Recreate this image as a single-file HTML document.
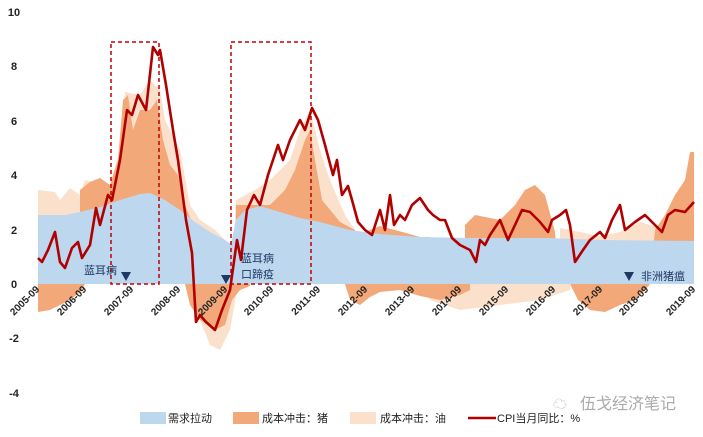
<!DOCTYPE html><html><head><meta charset="utf-8"><style>
body{margin:0;background:#fff;width:703px;height:432px;overflow:hidden;font-family:"Liberation Sans","Noto Sans CJK SC",sans-serif}
</style></head><body>
<svg width="703" height="432" viewBox="0 0 703 432" xmlns="http://www.w3.org/2000/svg" font-family="Liberation Sans, Noto Sans CJK SC, sans-serif">
<g font-size="11" fill="#222" text-anchor="middle" font-weight="bold">
<text x="14" y="16">10</text><text x="14" y="70">8</text><text x="14" y="125">6</text><text x="14" y="179">4</text><text x="14" y="234">2</text><text x="14" y="288">0</text><text x="14" y="342">-2</text><text x="14" y="397">-4</text>
</g>
<polygon fill="#fbe0cc" points="38,284 38,190 55,192 60,200 70,188 80,195 85,180 110,185 120,150 125,92 140,95 150,80 160,90 165,120 180,150 190,205 200,220 215,230 225,240 231,284"/>
<polygon fill="#fbe0cc" points="190,284 200,320 210,345 220,350 230,330 238,284"/>
<polygon fill="#fbe0cc" points="231,284 236,200 255,190 270,180 290,160 300,130 310,110 320,150 330,180 345,215 355,230 355,284"/>
<polygon fill="#fbe0cc" points="420,284 430,300 460,310 500,305 540,300 570,290 570,284"/>
<polygon fill="#fbe0cc" points="560,284 560,228 600,236 620,232 640,222 660,228 694,234 694,284"/>
<polygon fill="#f2a878" points="80,284 80,190 90,182 100,178 110,185 118,160 123,100 128,95 133,130 140,110 150,110 157,100 163,140 170,165 178,175 185,205 195,230 205,240 205,284"/>
<polygon fill="#f2a878" points="236,284 236,205 255,205 270,205 285,190 295,170 305,140 310,130 315,160 322,200 340,222 355,230 355,284"/>
<polygon fill="#f2a878" points="360,284 365,232 380,226 395,230 420,237 430,237 430,284"/>
<polygon fill="#f2a878" points="465,284 465,225 475,215 490,218 500,220 515,205 525,190 535,185 545,195 555,232 560,284"/>
<polygon fill="#f2a878" points="650,284 655,230 665,215 675,195 685,180 690,152 694,152 694,284"/>
<polygon fill="#bdd7ee" points="38,284 38,215 65,215 80,212 100,207 120,200 140,194 150,193 165,200 180,210 195,222 210,232 225,240 231,244 236,220 245,210 260,206 280,212 300,218 320,222 350,230 380,234 420,237 470,238 550,238 600,240 694,241 694,284"/>
<polygon fill="#f2a878" points="38,284 38,312 50,310 60,305 70,300 80,292 85,284"/>
<polygon fill="#f2a878" points="185,284 190,305 200,320 215,330 225,325 232,300 240,290 250,286 250,284"/>
<polygon fill="#f2a878" points="345,284 350,300 360,305 370,297 380,292 400,290 420,296 440,300 460,295 470,290 470,284"/>
<polygon fill="#f2a878" points="570,284 578,300 590,310 605,312 620,305 635,300 645,290 650,284"/>
<g fill="none" stroke="#c00000" stroke-width="1.5" stroke-dasharray="4,3">
<rect x="111" y="42" width="48" height="242"/><rect x="231" y="42" width="80" height="242"/>
</g>
<polyline fill="none" stroke="#b00000" stroke-width="2.6" stroke-linejoin="round" points="38,258 42,262 48,250 55,232 60,262 65,268 72,248 78,242 82,258 90,245 96,208 100,225 108,195 112,200 120,160 127,110 132,115 138,95 146,110 153,47 158,55 160,50 166,85 173,130 178,160 186,220 192,253 196,322 200,315 206,322 215,330 222,310 230,290 237,240 241,260 247,210 254,195 260,205 268,175 278,145 283,160 290,140 300,120 305,130 312,108 318,120 325,145 333,175 337,160 342,195 348,186 352,200 358,222 365,230 372,235 380,210 385,230 390,195 394,225 400,215 405,220 412,205 420,198 428,210 433,215 440,220 445,220 452,238 460,245 470,250 476,262 480,240 485,245 490,235 500,220 508,240 515,225 522,210 530,212 540,222 548,232 552,220 560,215 566,210 570,225 575,262 583,250 590,240 600,232 605,238 612,220 620,205 625,230 635,222 645,215 655,225 662,232 668,215 675,210 685,212 694,202"/>
<g fill="#1f3864"><polygon points="121,272 131,272 126,281"/><polygon points="221,275 231,275 226,284"/><polygon points="624,272 634,272 629,281"/></g>
<g font-size="11" fill="#1f3864">
<text x="84" y="274">蓝耳病</text><text x="241" y="262">蓝耳病</text><text x="241" y="278">口蹄疫</text><text x="641" y="280">非洲猪瘟</text>
</g>
<g font-size="10" fill="#222" text-anchor="end" font-weight="bold">
<text transform="translate(40,290) rotate(-45)">2005-09</text>
<text transform="translate(87,290) rotate(-45)">2006-09</text>
<text transform="translate(134,290) rotate(-45)">2007-09</text>
<text transform="translate(181,290) rotate(-45)">2008-09</text>
<text transform="translate(228,290) rotate(-45)">2009-09</text>
<text transform="translate(274,290) rotate(-45)">2010-09</text>
<text transform="translate(321,290) rotate(-45)">2011-09</text>
<text transform="translate(368,290) rotate(-45)">2012-09</text>
<text transform="translate(415,290) rotate(-45)">2013-09</text>
<text transform="translate(462,290) rotate(-45)">2014-09</text>
<text transform="translate(509,290) rotate(-45)">2015-09</text>
<text transform="translate(556,290) rotate(-45)">2016-09</text>
<text transform="translate(603,290) rotate(-45)">2017-09</text>
<text transform="translate(649,290) rotate(-45)">2018-09</text>
<text transform="translate(696,290) rotate(-45)">2019-09</text>
</g>
<rect x="140" y="412" width="26" height="12" fill="#bdd7ee"/><text x="168" y="422" font-size="11" fill="#222">需求拉动</text>
<rect x="233" y="412" width="26" height="12" fill="#f2a878"/><text x="262" y="422" font-size="11" fill="#222">成本冲击：猪</text>
<rect x="350" y="412" width="26" height="12" fill="#fbe0cc"/><text x="380" y="422" font-size="11" fill="#222">成本冲击：油</text>
<line x1="468" y1="418" x2="496" y2="418" stroke="#b00000" stroke-width="2.6"/><text x="497" y="422" font-size="11" fill="#222">CPI当月同比：%</text>
<text x="580" y="409" font-size="16" fill="#aaa">伍戈经济笔记</text>
<text x="553" y="409" font-size="14" fill="#bbb">☁</text>
</svg>
</body></html>
